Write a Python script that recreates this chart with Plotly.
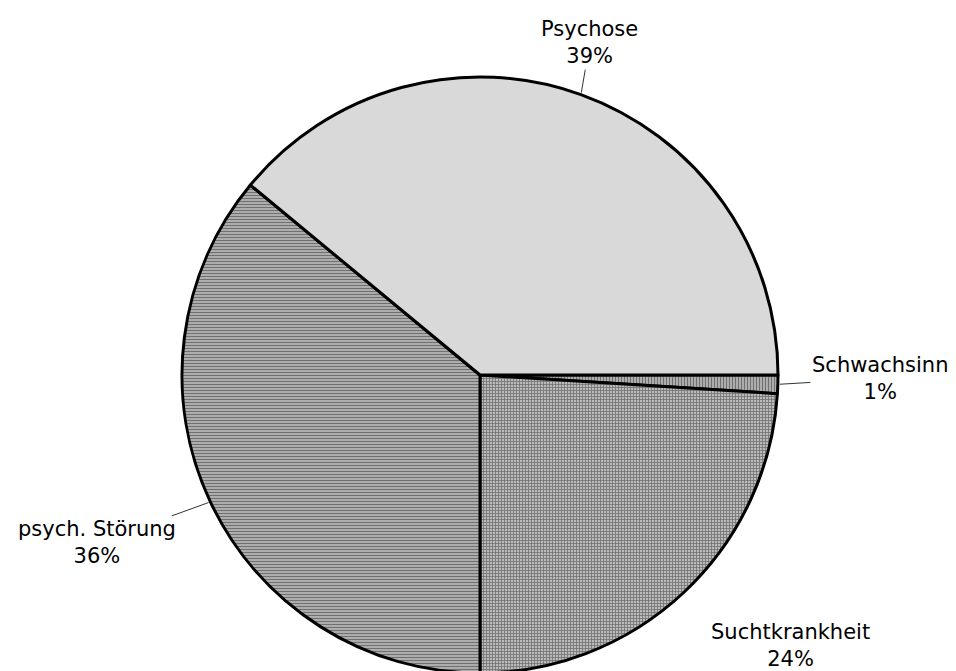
import math
import plotly.graph_objects as go

# slices listed counterclockwise from 3 o'clock, as in the reference
labels = ["Psychose", "psych. Störung", "Suchtkrankheit", "Schwachsinn"]
values = [39, 36, 24, 1]
shapes = ["", "-", "+", "|"]
colors = ["#d9d9d9", "#b8b8b8", "#b8b8b8", "#b8b8b8"]

# label offsets (px) from the slice edge to the text centre
offsets = [(9, -52), (-113, 41), (107, 53), (102, -6)]

W, H = 956, 671
cx, cy, r = 472, 367, 298   # pie centre / radius in px (page adds ~8px body margin)

# plotly draws clockwise from the rotation angle, so feed the slices reversed
fig = go.Figure(go.Pie(
    labels=labels[::-1],
    values=values[::-1],
    sort=False,
    direction="clockwise",
    rotation=90,
    textinfo="none",
    hoverinfo="label+percent",
    marker=dict(
        colors=colors[::-1],
        line=dict(color="black", width=3),
        pattern=dict(shape=shapes[::-1], fgcolor="#707070", bgcolor="#bababa",
                     size=3, solidity=0.45),
    ),
    domain=dict(x=[0, 2 * cx / W], y=[(H - cy - r) / H, (H - cy + r) / H]),
    showlegend=False,
))

total = sum(values)
start = 0.0
for lab, v, (ox, oy) in zip(labels, values, offsets):
    mid = math.radians(start + v / total * 360 / 2)
    start += v / total * 360
    px = cx + r * math.cos(mid)
    py = cy - r * math.sin(mid)
    fig.add_annotation(
        x=px / W, y=1 - py / H, xref="paper", yref="paper",
        text=f"{lab}<br>{round(v / total * 100)}%",
        showarrow=True, arrowhead=0, arrowwidth=1, arrowcolor="#333",
        ax=ox, ay=oy, standoff=2,
        font=dict(family="DejaVu Sans", size=21, color="black"),
        align="center",
    )

fig.update_layout(
    width=W, height=H,
    margin=dict(l=0, r=0, t=0, b=0),
    paper_bgcolor="white",
    plot_bgcolor="white",
)

fig.write_html("out.html")
